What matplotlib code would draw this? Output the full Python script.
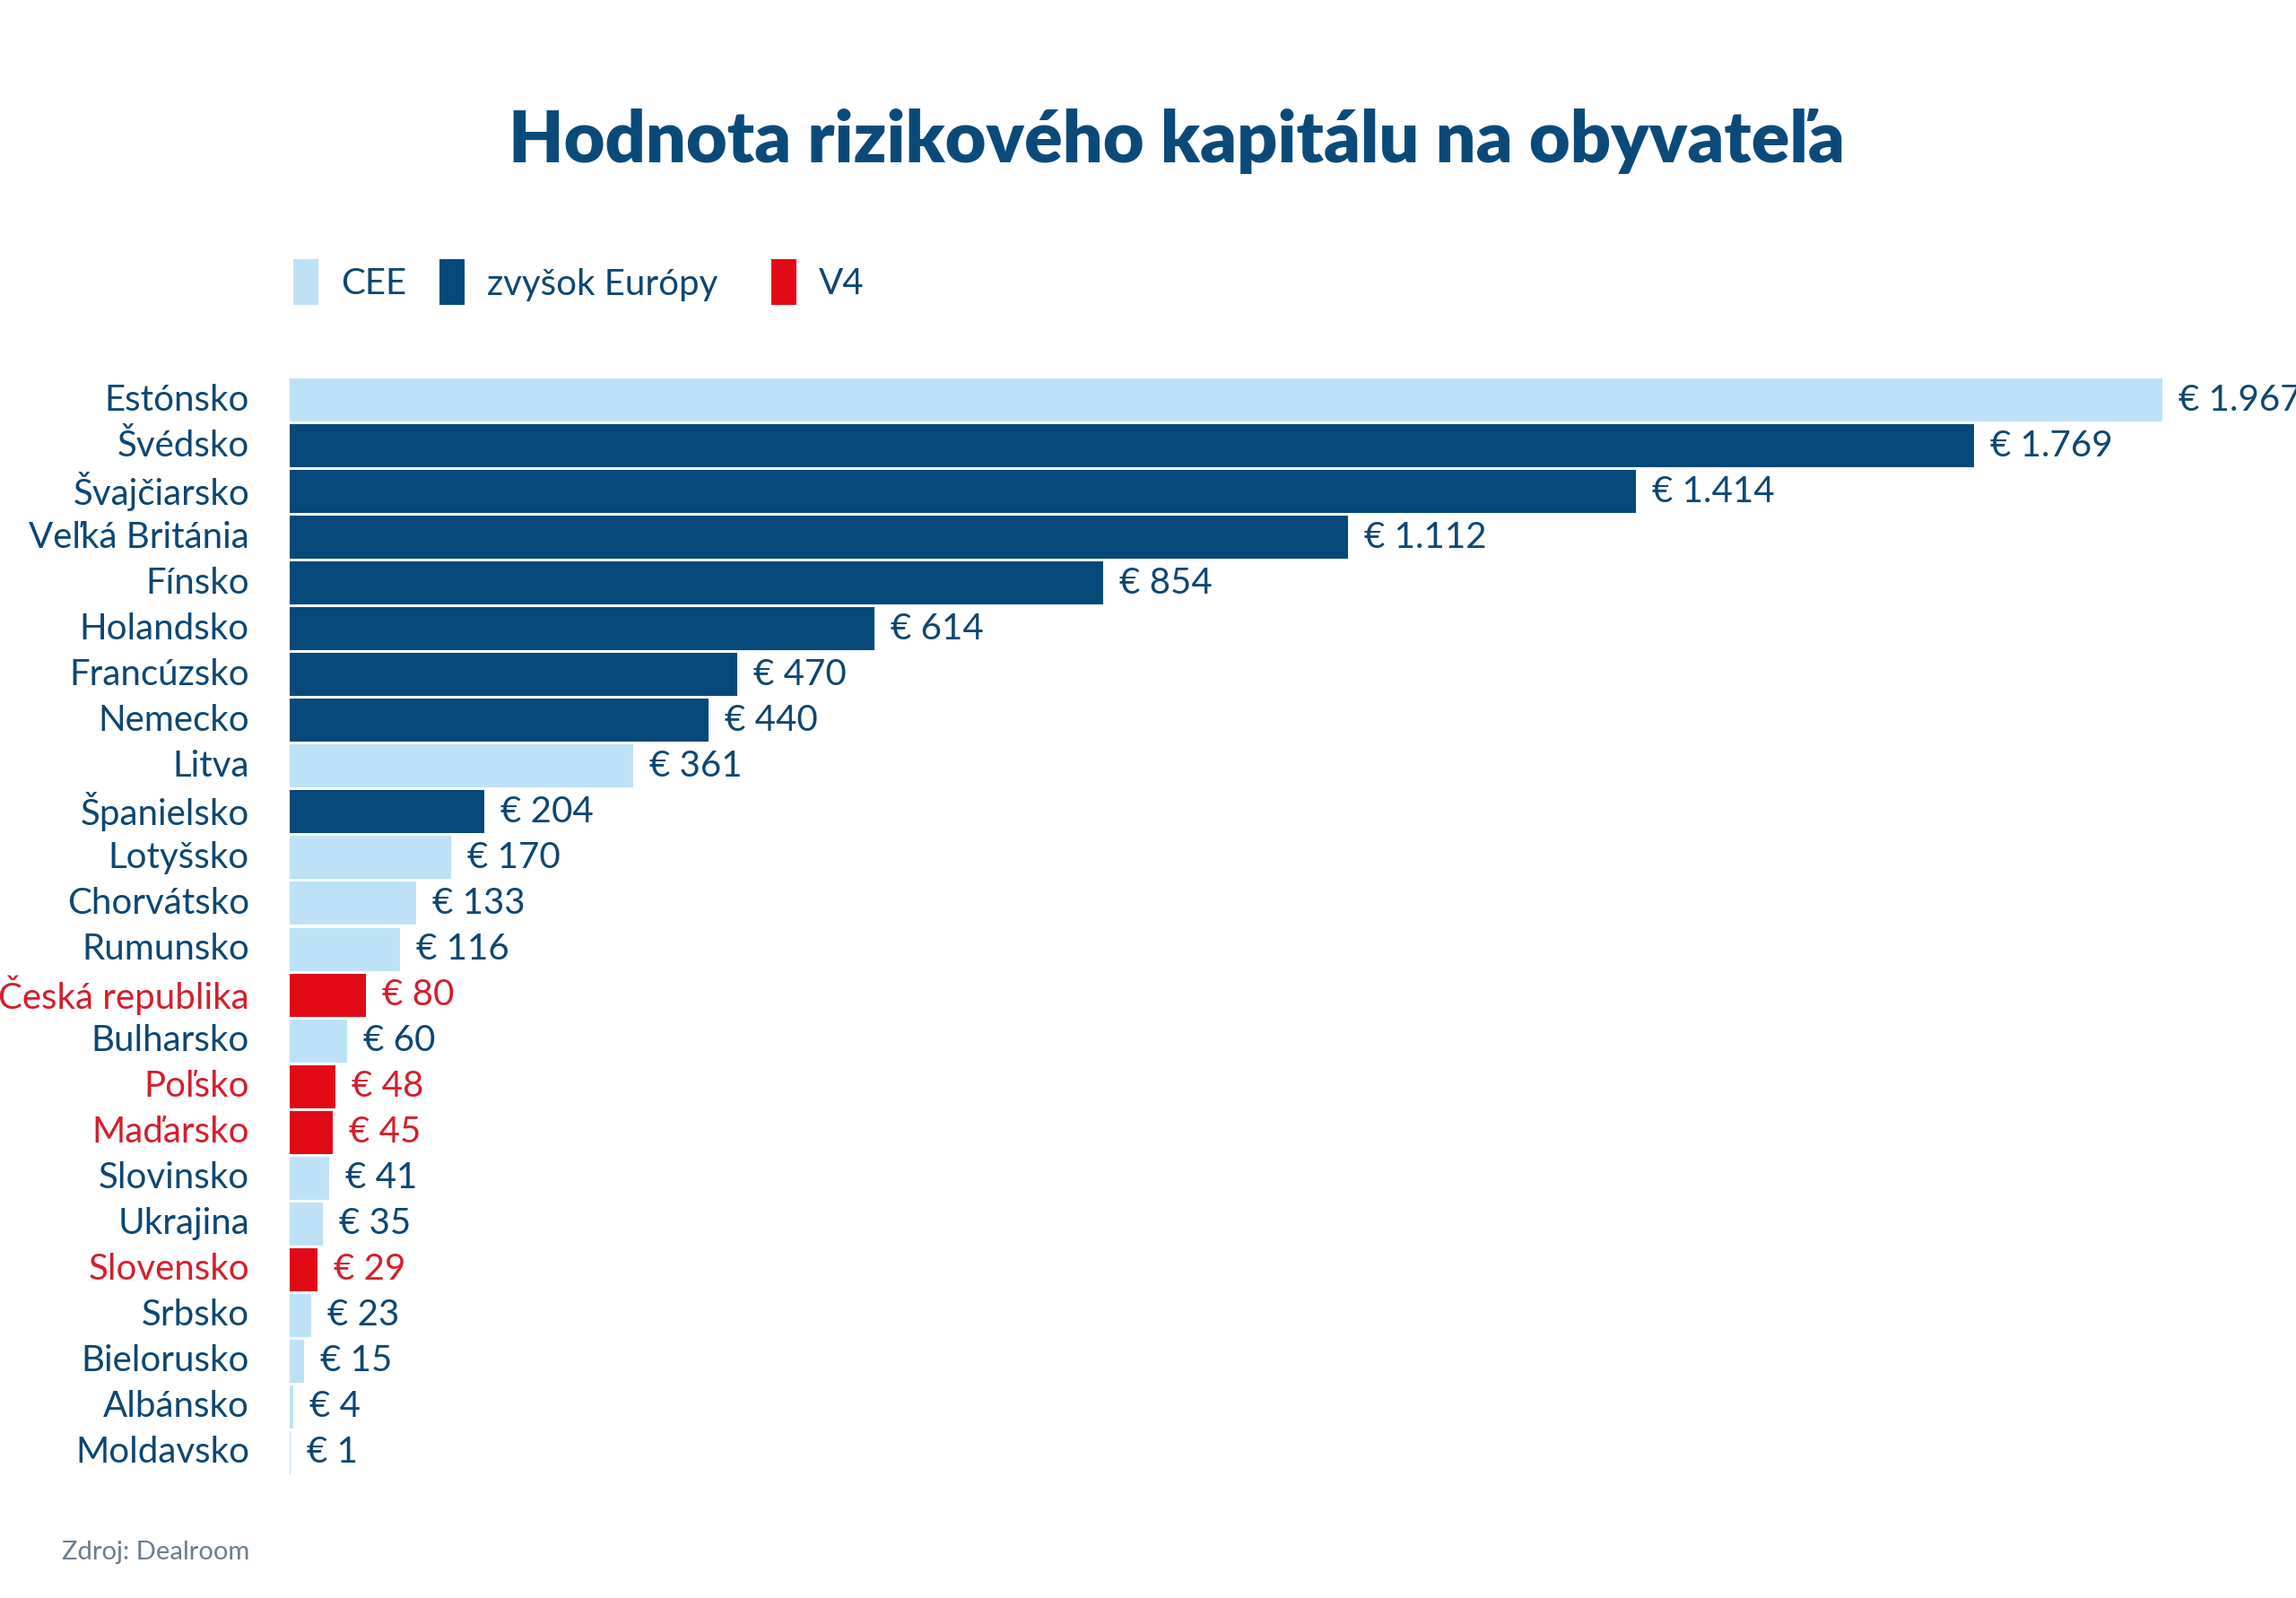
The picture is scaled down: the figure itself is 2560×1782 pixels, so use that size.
import matplotlib
matplotlib.use('Agg')
import matplotlib.pyplot as plt
from matplotlib.patches import Rectangle

countries = ['Estónsko', 'Švédsko', 'Švajčiarsko', 'Veľká Británia', 'Fínsko', 'Holandsko',
             'Francúzsko', 'Nemecko', 'Litva', 'Španielsko', 'Lotyšsko', 'Chorvátsko',
             'Rumunsko', 'Česká republika', 'Bulharsko', 'Poľsko', 'Maďarsko', 'Slovinsko',
             'Ukrajina', 'Slovensko', 'Srbsko', 'Bielorusko', 'Albánsko', 'Moldavsko']
values = [1967, 1769, 1414, 1112, 854, 614, 470, 440, 361, 204, 170, 133,
          116, 80, 60, 48, 45, 41, 35, 29, 23, 15, 4, 1]
groups = ['CEE', 'EU', 'EU', 'EU', 'EU', 'EU', 'EU', 'EU', 'CEE', 'EU', 'CEE', 'CEE',
          'CEE', 'V4', 'CEE', 'V4', 'V4', 'CEE', 'CEE', 'V4', 'CEE', 'CEE', 'CEE', 'CEE']
legend_names = ['CEE', 'zvyšok Európy', 'V4']

bar_col = {'CEE': '#bde2f7', 'EU': '#04497a', 'V4': '#e20a17'}
txt_col = {'CEE': '#0d4773', 'EU': '#0d4773', 'V4': '#d41f2c'}
navy = '#0d4773'
fnt = 'Lato'

W, H = 2560, 1782
fig = plt.figure(figsize=(W / 100, H / 100), dpi=100)
ax = fig.add_axes([323 / W, 1 - 1645.5 / H, 2088 / W, 1225 / H])

y = list(range(len(countries)))
ax.barh(y, values, height=0.94, color=[bar_col[g] for g in groups], linewidth=0)
ax.set_xlim(0, max(values))
ax.set_ylim(len(countries) - 0.5, -0.5)
ax.axis('off')

def fmt(v):
    return '€ ' + f'{v:,}'.replace(',', '.')

for i, (c, v, g) in enumerate(zip(countries, values, groups)):
    ax.annotate(c, xy=(0, i), xytext=(-45, 0), textcoords='offset pixels',
                ha='right', va='center', fontsize=29, family=fnt,
                color=txt_col[g], annotation_clip=False)
    ax.annotate(fmt(v), xy=(v, i), xytext=(18, 0), textcoords='offset pixels',
                ha='left', va='center', fontsize=29, family=fnt,
                color=txt_col[g], annotation_clip=False)

fig.text(1312 / W, 1 - 158 / H, 'Hodnota rizikového kapitálu na obyvateľa',
         ha='center', va='center', fontsize=57, fontweight='heavy',
         family=fnt, color='#0a4a7a')

# legend
leg_x = [327, 490, 860]
for lx, name, g in zip(leg_x, legend_names, ['CEE', 'EU', 'V4']):
    fig.patches.append(Rectangle((lx / W, 1 - 340 / H), 28 / W, 51 / H,
                                 transform=fig.transFigure, color=bar_col[g], lw=0))
    fig.text((lx + 53) / W, 1 - 317 / H, name, ha='left', va='center',
             fontsize=29, family=fnt, color=navy)

fig.text(278 / W, 1 - 1731 / H, 'Zdroj: Dealroom', ha='right', va='center',
         fontsize=21, family=fnt, color='#6a7d8f')

plt.savefig('out.png', dpi=100, facecolor='white')
